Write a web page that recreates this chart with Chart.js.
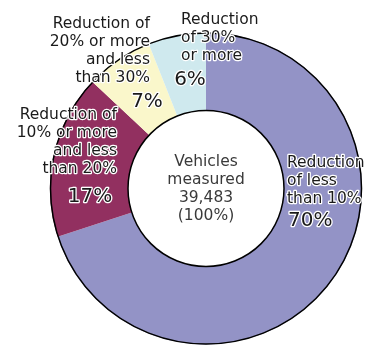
<!DOCTYPE html>
<html>
<head>
<meta charset="utf-8">
<script src="https://cdn.jsdelivr.net/npm/chart.js@4.4.1/dist/chart.umd.min.js"></script>
<style>
  html, body { margin: 0; padding: 0; background: #fff; }
  #wrap { width: 367px; height: 345px; position: relative; }
</style>
</head>
<body>
<div id="wrap"><canvas id="donut"></canvas></div>
<script>
// Share of measured vehicles by reduction band (%)
const categories = [
  ['Reduction', 'of less', 'than 10%'],
  ['Reduction of', '10% or more', 'and less', 'than 20%'],
  ['Reduction of', '20% or more', 'and less', 'than 30%'],
  ['Reduction', 'of 30%', 'or more']
];
const shares = [70, 17, 7, 6];
const colors = ['#9393c6', '#923060', '#faf7cb', '#cfe9ee'];
const centerLines = ['Vehicles', 'measured', '39,483', '(100%)'];

// label anchors relative to the ring centre: text block and percent
const labelPos = [
  { tx: 81, ty: -26, align: 'left', px: 82, py: 32, palign: 'left' },
  { tx: -89, ty: -74, align: 'right', px: -116, py: 8, palign: 'center' },
  { tx: -56, ty: -165, align: 'right', px: -59, py: -87, palign: 'center' },
  { tx: -25, ty: -169, align: 'left', px: -16, py: -109, palign: 'center' }
];

const FONT = '"DejaVu Sans", sans-serif';
const LINE_H = 18.3;

function haloText(ctx, text, x, y) {
  ctx.lineJoin = 'round';
  ctx.strokeStyle = '#fff';
  ctx.lineWidth = 2.5;
  ctx.strokeText(text, x, y);
  ctx.fillStyle = '#1a1a1a';
  ctx.fillText(text, x, y);
}

const ringLabels = {
  id: 'ringLabels',
  afterDatasetsDraw(chart) {
    const ctx = chart.ctx;
    const arc = chart.getDatasetMeta(0).data[0];
    const cx = arc.x, cy = arc.y;

    // outline of the ring
    ctx.save();
    ctx.strokeStyle = '#000';
    ctx.lineWidth = 1.5;
    ctx.beginPath();
    ctx.arc(cx, cy, arc.outerRadius - 0.5, 0, Math.PI * 2);
    ctx.stroke();
    ctx.beginPath();
    ctx.arc(cx, cy, arc.innerRadius, 0, Math.PI * 2);
    ctx.stroke();

    ctx.textBaseline = 'middle';
    categories.forEach((lines, i) => {
      const p = labelPos[i];
      ctx.font = '15.5px ' + FONT;
      ctx.textAlign = p.align;
      lines.forEach((ln, k) => haloText(ctx, ln, cx + p.tx, cy + p.ty + k * LINE_H));
      ctx.font = '20px ' + FONT;
      ctx.textAlign = p.palign;
      haloText(ctx, shares[i] + '%', cx + p.px, cy + p.py);
    });

    // centre caption
    ctx.font = '15.5px ' + FONT;
    ctx.textAlign = 'center';
    ctx.fillStyle = '#3a3a3a';
    centerLines.forEach((ln, k) => ctx.fillText(ln, cx, cy - 27 + k * LINE_H));
    ctx.restore();
  }
};

new Chart(document.getElementById('donut'), {
  type: 'doughnut',
  data: {
    labels: categories.map(c => c.join(' ')),
    datasets: [{
      data: shares,
      backgroundColor: colors,
      borderWidth: 0
    }]
  },
  options: {
    responsive: true,
    maintainAspectRatio: false,
    animation: false,
    cutout: '50%',
    layout: { padding: { left: 50, right: 5, top: 32, bottom: 0 } },
    plugins: {
      legend: { display: false },
      tooltip: { enabled: false }
    }
  },
  plugins: [ringLabels]
});
</script>
</body>
</html>
